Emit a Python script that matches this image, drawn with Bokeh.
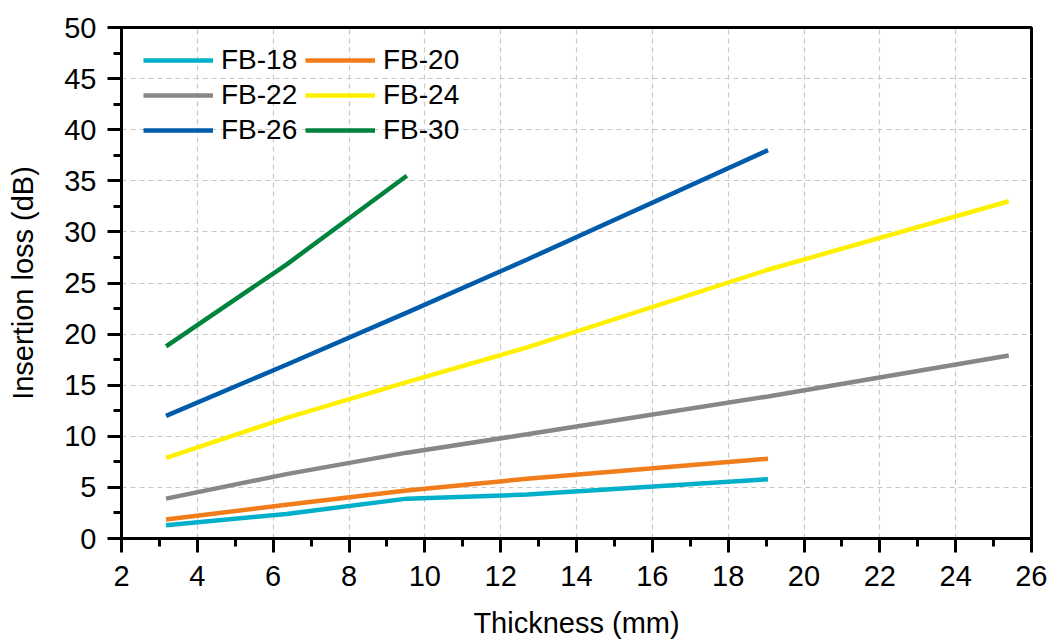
from bokeh.plotting import figure
from bokeh.models import Legend, LegendItem, SingleIntervalTicker, Range1d
from bokeh.embed import file_html
from bokeh.resources import INLINE

# Data
thickness = [3.175, 6.35, 9.525, 12.7, 19.05, 25.4]
fb18 = [1.3, 2.4, 3.9, 4.3, 5.8]
fb20 = [1.85, 3.3, 4.7, 5.85, 7.8]
fb22 = [3.9, 6.3, 8.4, 10.2, 13.9, 17.9]
fb24 = [7.9, 11.8, 15.3, 18.7, 26.3, 33.0]
fb26 = [12.0, 17.0, 22.1, 27.3, 38.0]
fb30 = [18.8, 26.8, 35.5]

series = [
    ("FB-18", fb18, "#00B0CA"),
    ("FB-20", fb20, "#F07D1A"),
    ("FB-22", fb22, "#878787"),
    ("FB-24", fb24, "#FFF000"),
    ("FB-26", fb26, "#005CAB"),
    ("FB-30", fb30, "#00843D"),
]

FONT = "Liberation Sans"

p = figure(width=1047, height=641, output_backend="svg", toolbar_location=None,
           x_range=Range1d(2, 26), y_range=Range1d(0, 50),
           min_border_left=121, min_border_right=16, min_border_top=27, min_border_bottom=103)

renderers = {}
for name, vals, col in series:
    r = p.line(thickness[:len(vals)], vals, line_color=col, line_width=4.5)
    renderers[name] = r

# legend is filled column by column: order so rows read 18/20, 22/24, 26/30
order = ["FB-18", "FB-22", "FB-26", "FB-20", "FB-24", "FB-30"]
items = [LegendItem(label=n, renderers=[renderers[n]]) for n in order]

p.xaxis.ticker = SingleIntervalTicker(interval=2, num_minor_ticks=2)
p.yaxis.ticker = SingleIntervalTicker(interval=5, num_minor_ticks=2)

for ax in (p.xaxis[0], p.yaxis[0]):
    ax.axis_line_width = 3
    ax.axis_line_color = "black"
    ax.major_tick_line_width = 3
    ax.minor_tick_line_width = 3
    ax.major_tick_line_color = "black"
    ax.minor_tick_line_color = "black"
    ax.major_tick_out = 14
    ax.major_tick_in = 0
    ax.minor_tick_out = 8
    ax.minor_tick_in = 0
    ax.major_label_text_font = FONT
    ax.major_label_text_font_size = "29px"
    ax.major_label_text_color = "black"
    ax.axis_label_text_font = FONT
    ax.axis_label_text_font_size = "29px"
    ax.axis_label_text_font_style = "normal"
    ax.axis_label_text_color = "black"

p.xaxis.axis_label = "Thickness (mm)"
p.yaxis.axis_label = "Insertion loss (dB)"
p.xaxis.major_label_standoff = 13
p.yaxis.major_label_standoff = 11
p.xaxis.axis_label_standoff = 18
p.yaxis.axis_label_standoff = 22

p.outline_line_color = "black"
p.outline_line_width = 3
p.outline_line_alpha = 1

for g in (p.xgrid[0], p.ygrid[0]):
    g.grid_line_color = "#C8C8C8"
    g.grid_line_dash = "5 4"
    g.grid_line_width = 1.2

legend = Legend(items=items, ncols=2, location=(22, 392),
                border_line_color=None, background_fill_alpha=0,
                label_text_font=FONT, label_text_font_size="28px",
                label_text_color="black",
                glyph_width=70, glyph_height=30, label_height=30,
                label_width=81, label_standoff=8, spacing=3, padding=0, margin=0)
p.add_layout(legend, "center")

open("out.html", "w").write(file_html(p, INLINE))
